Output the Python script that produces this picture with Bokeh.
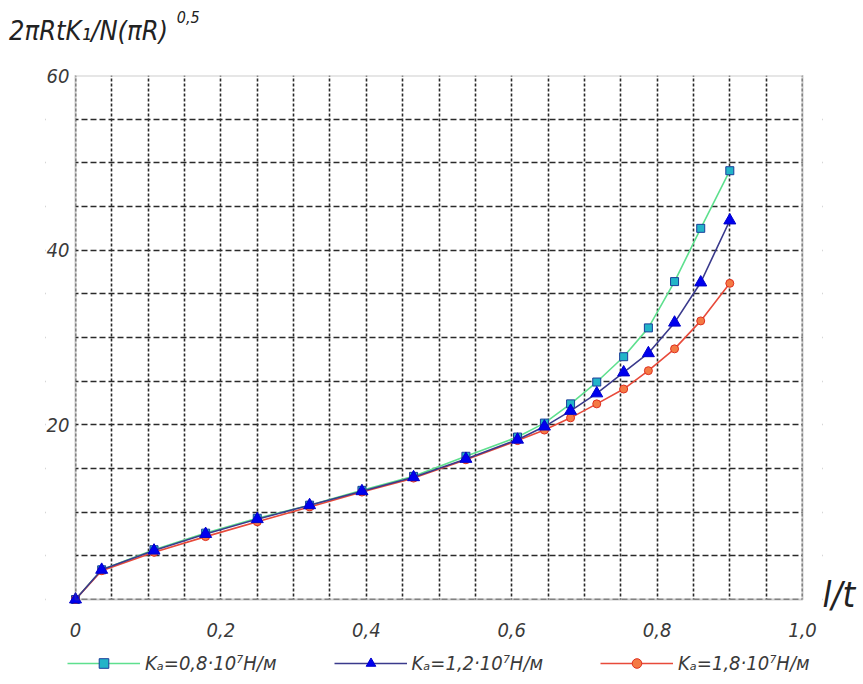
from bokeh.plotting import figure
from bokeh.models import (Range1d, FixedTicker, Legend, LegendItem, LinearAxis,
                          BoxAnnotation)
from bokeh.embed import file_html
from bokeh.resources import INLINE

# ---- data ----
x_vals = [0, 0.036, 0.108, 0.179, 0.25, 0.322, 0.394, 0.465, 0.537, 0.608,
          0.645, 0.681, 0.717, 0.754, 0.788, 0.824, 0.86, 0.9]
y_k08 = [0, 3.4, 5.7, 7.6, 9.3, 10.8, 12.5, 14.1, 16.4, 18.6,
         20.2, 22.4, 24.9, 27.8, 31.1, 36.4, 42.5, 49.1]
y_k12 = [0, 3.4, 5.6, 7.5, 9.2, 10.8, 12.4, 14.0, 16.1, 18.3,
         19.8, 21.6, 23.6, 26.0, 28.2, 31.7, 36.3, 43.4]
y_k18 = [0, 3.3, 5.4, 7.2, 8.9, 10.6, 12.3, 13.9, 16.0, 18.2,
         19.4, 20.8, 22.4, 24.1, 26.2, 28.7, 31.9, 36.2]

series_labels = ["Kₐ=0,8·10⁷H/м", "Kₐ=1,2·10⁷H/м", "Kₐ=1,8·10⁷H/м"]

x_grid = [i * 0.05 for i in range(21)]
y_grid = [i * 5 for i in range(13)]
x_ticks = [0, 0.2, 0.4, 0.6, 0.8, 1.0]
x_tick_labels = ["0", "0,2", "0,4", "0,6", "0,8", "1,0"]
y_ticks = [20, 40, 60]
y_tick_labels = ["20", "40", "60"]

y_title = "2πRtK₁/N(πR)"
y_title_power = "0,5"
x_title = "l/t"

FONT = "DejaVu Sans Condensed"
TXT = "#3a3a3a"

X0, X1, Y0, Y1 = 0, 1, 0, 60
PX_PER_X = 727 / (X1 - X0)
PX_PER_Y = 524 / (Y1 - Y0)
PAD_L, PAD_R = 30, 20                 # extra frame pixels beside the chart
LEGEND_ROOM = 77                      # pixels below y=0 kept for the legend

p = figure(frame_width=727 + PAD_L + PAD_R, frame_height=524 + LEGEND_ROOM,
           output_backend="svg", toolbar_location=None,
           x_range=Range1d(X0 - PAD_L / PX_PER_X, X1 + PAD_R / PX_PER_X),
           y_range=Range1d(Y0 - LEGEND_ROOM / PX_PER_Y, Y1),
           min_border_left=75 - PAD_L, min_border_right=53 - PAD_R,
           min_border_top=75, min_border_bottom=0)
p.background_fill_color = "white"
p.border_fill_color = "white"
p.outline_line_color = None

# grids
p.xgrid.ticker = FixedTicker(ticks=x_grid)
p.ygrid.ticker = FixedTicker(ticks=y_grid)
p.xgrid.grid_line_color = "#2a2a2a"
p.ygrid.grid_line_color = "#2a2a2a"
p.xgrid.grid_line_width = 1.6
p.ygrid.grid_line_width = 1.6
p.xgrid.grid_line_dash = "3 2"
p.ygrid.grid_line_dash = "6 3"

# blank strips around the chart area (hide grid outside it), and chart border
for kw in (dict(top=Y0), dict(right=X0), dict(left=X1)):
    p.add_layout(BoxAnnotation(fill_color="white", fill_alpha=1,
                               line_color=None, level="underlay", **kw))
p.add_layout(BoxAnnotation(left=X0, right=X1, bottom=Y0, top=Y1,
                           fill_alpha=0, line_color="#555555", line_width=2,
                           level="guide"))


def style_axis(ax, size, color=TXT):
    ax.axis_line_color = None
    ax.major_tick_line_color = None
    ax.minor_tick_line_color = None
    ax.major_tick_out = 0
    ax.major_tick_in = 0
    ax.minor_tick_out = 0
    ax.minor_tick_in = 0
    ax.major_label_text_font = FONT
    ax.major_label_text_font_style = "italic"
    ax.major_label_text_font_size = size
    ax.major_label_text_color = color


# main axes
style_axis(p.xaxis[0], "20px")
style_axis(p.yaxis[0], "20px")
p.xaxis.ticker = FixedTicker(ticks=x_ticks)
p.xaxis.major_label_overrides = {t: l for t, l in zip(x_ticks, x_tick_labels)}
p.xaxis.major_label_standoff = 23
p.xaxis.fixed_location = Y0
p.yaxis.ticker = FixedTicker(ticks=y_ticks)
p.yaxis.major_label_overrides = {t: l for t, l in zip(y_ticks, y_tick_labels)}
p.yaxis.major_label_standoff = 6 - PAD_L

# axis titles as label-only axes in the side panels
t_pos = 0.018
ax_title = LinearAxis(ticker=FixedTicker(ticks=[t_pos]),
                      major_label_overrides={t_pos: y_title},
                      major_label_standoff=30)
style_axis(ax_title, "27px", "#222222")
p.add_layout(ax_title, "above")

s_pos = 0.155
ax_pow = LinearAxis(ticker=FixedTicker(ticks=[s_pos]),
                    major_label_overrides={s_pos: y_title_power},
                    major_label_standoff=-11)
style_axis(ax_pow, "16px", "#222222")
p.add_layout(ax_pow, "above")

r_pos = 0.6
ax_x = LinearAxis(ticker=FixedTicker(ticks=[r_pos]),
                  major_label_overrides={r_pos: x_title},
                  major_label_standoff=0)
style_axis(ax_x, "36px", "#222222")
p.add_layout(ax_x, "right")

# series
l1 = p.line(x_vals, y_k08, line_color="#5ee08e", line_width=1.6)
m1 = p.scatter(x_vals, y_k08, marker="square", size=8, fill_color="#22b4c8",
               line_color="#1a3e9a", line_width=1)
l3 = p.line(x_vals, y_k18, line_color="#e84a3a", line_width=1.6)
m3 = p.scatter(x_vals, y_k18, marker="circle", size=8, fill_color="#f47a44",
               line_color="#e03020", line_width=1)
l2 = p.line(x_vals, y_k12, line_color="#3a3a8c", line_width=1.6)
m2 = p.scatter(x_vals, y_k12, marker="triangle", size=12, fill_color="#0000ee",
               line_color="#0000cc", line_width=1)

# legend in the blank strip under the chart
lg = Legend(items=[LegendItem(label=series_labels[0], renderers=[l1, m1]),
                   LegendItem(label=series_labels[1], renderers=[l2, m2]),
                   LegendItem(label=series_labels[2], renderers=[l3, m3])],
            location=(PAD_L - 8, 1), orientation="horizontal",
            glyph_width=73, glyph_height=24, label_standoff=5, spacing=57,
            padding=0, margin=0, border_line_color=None,
            background_fill_alpha=0,
            label_text_font=FONT, label_text_font_style="italic",
            label_text_font_size="20px", label_text_color=TXT)
p.add_layout(lg, "center")

open("out.html", "w").write(file_html(p, INLINE))
